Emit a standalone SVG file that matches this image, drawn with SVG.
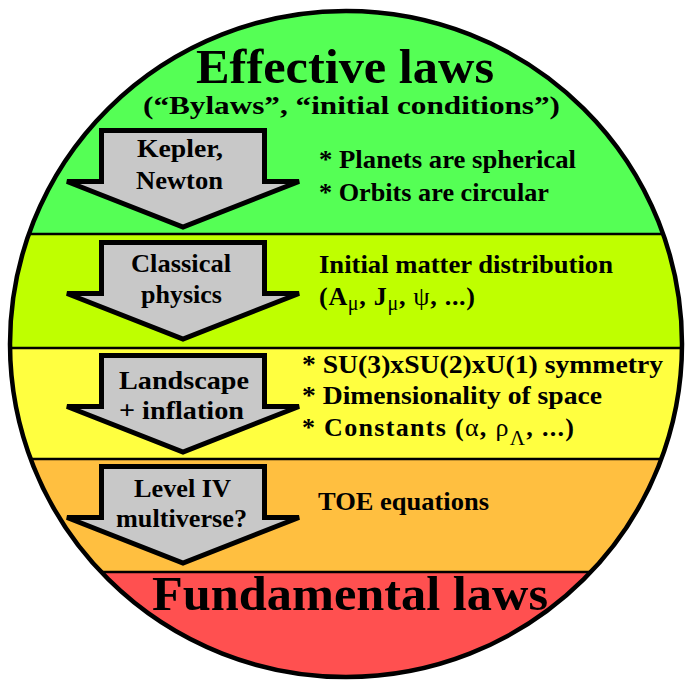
<svg xmlns="http://www.w3.org/2000/svg" xmlns:xlink="http://www.w3.org/1999/xlink" width="691" height="683" viewBox="0 0 691 683">
<style>
text{font-family:"Liberation Serif","Times New Roman",serif;font-weight:bold;fill:#000}
.big{font-size:48px}
.sub{font-size:26px}
.lbl{font-size:26px}
.band-line{stroke:#000;stroke-width:2.5}
.arrow{fill:#C8C8C8;stroke:#000;stroke-width:5;stroke-linejoin:miter}
.sym{font-weight:normal}
</style>
<defs>
<clipPath id="disc"><ellipse cx="346" cy="344" rx="336" ry="333"/></clipPath>
<polygon id="arrowShape" points="101.5,130.5 264.5,130.5 264.5,181.5 299,181.5 183,227 67,181.5 101.5,181.5"/>
</defs>
<g id="bands" clip-path="url(#disc)">
<g id="band-effective"><rect x="0" y="0" width="691" height="234" fill="#55FF55"/></g>
<g id="band-classical"><rect x="0" y="234" width="691" height="114" fill="#BFFF00"/></g>
<g id="band-landscape"><rect x="0" y="348" width="691" height="111" fill="#FFFF40"/></g>
<g id="band-toe"><rect x="0" y="459" width="691" height="113" fill="#FFBF40"/></g>
<g id="band-fundamental"><rect x="0" y="572" width="691" height="111" fill="#FF5050"/></g>
<line class="band-line" x1="0" y1="234" x2="691" y2="234"/>
<line class="band-line" x1="0" y1="348" x2="691" y2="348"/>
<line class="band-line" x1="0" y1="459" x2="691" y2="459"/>
<line class="band-line" x1="0" y1="572" x2="691" y2="572"/>
</g>
<ellipse id="outline" cx="346" cy="344" rx="336" ry="333" fill="none" stroke="#000" stroke-width="4.5"/>
<g id="title-effective">
<text class="big" x="196" y="83" textLength="298" lengthAdjust="spacingAndGlyphs">Effective laws</text>
<text class="sub" x="143" y="114" textLength="417" lengthAdjust="spacingAndGlyphs">(“Bylaws”, “initial conditions”)</text>
</g>
<g id="arrow-kepler">
<use xlink:href="#arrowShape" class="arrow"/>
<text class="lbl" x="137" y="157" textLength="86" lengthAdjust="spacingAndGlyphs">Kepler,</text>
<text class="lbl" x="136" y="189" textLength="87" lengthAdjust="spacingAndGlyphs">Newton</text>
</g>
<g id="text-kepler">
<text class="lbl" x="319" y="168" textLength="257" lengthAdjust="spacingAndGlyphs">* Planets are spherical</text>
<text class="lbl" x="319" y="201" textLength="230" lengthAdjust="spacingAndGlyphs">* Orbits are circular</text>
</g>
<g id="arrow-classical">
<use xlink:href="#arrowShape" class="arrow" y="112"/>
<text class="lbl" x="131" y="272" textLength="100" lengthAdjust="spacingAndGlyphs">Classical</text>
<text class="lbl" x="141" y="303" textLength="81" lengthAdjust="spacingAndGlyphs">physics</text>
</g>
<g id="text-classical">
<text class="lbl" x="319" y="273" textLength="294" lengthAdjust="spacingAndGlyphs">Initial matter distribution</text>
<text class="lbl" x="319" y="305" textLength="156" lengthAdjust="spacing">(A<tspan class="sym" font-size="20" dy="5">μ</tspan><tspan dy="-5">, J</tspan><tspan class="sym" font-size="20" dy="5">μ</tspan><tspan dy="-5">, </tspan><tspan class="sym">ψ</tspan>, ...)</text>
</g>
<g id="arrow-landscape">
<use xlink:href="#arrowShape" class="arrow" y="225"/>
<text class="lbl" x="119" y="389" textLength="130" lengthAdjust="spacingAndGlyphs">Landscape</text>
<text class="lbl" x="119" y="419" textLength="125" lengthAdjust="spacingAndGlyphs">+ inflation</text>
</g>
<g id="text-landscape">
<text class="lbl" x="302" y="373" textLength="361" lengthAdjust="spacingAndGlyphs">* SU(3)xSU(2)xU(1) symmetry</text>
<text class="lbl" x="302" y="404" textLength="300" lengthAdjust="spacingAndGlyphs">* Dimensionality of space</text>
<text class="lbl" x="302" y="436" textLength="272" lengthAdjust="spacing">* Constants (<tspan class="sym">α</tspan>, <tspan class="sym">ρ</tspan><tspan class="sym" font-size="21" dy="9">Λ</tspan><tspan dy="-9">,  ...)</tspan></text>
</g>
<g id="arrow-level4">
<use xlink:href="#arrowShape" class="arrow" y="336"/>
<text class="lbl" x="134" y="497" textLength="97" lengthAdjust="spacingAndGlyphs">Level IV</text>
<text class="lbl" x="116" y="527" textLength="131" lengthAdjust="spacingAndGlyphs">multiverse?</text>
</g>
<g id="text-level4">
<text class="lbl" x="318" y="510" textLength="171" lengthAdjust="spacingAndGlyphs">TOE equations</text>
</g>
<g id="title-fundamental">
<text class="big" x="152" y="610" textLength="396" lengthAdjust="spacingAndGlyphs" font-size="50">Fundamental laws</text>
</g>
<g id="connectors"/>
</svg>
